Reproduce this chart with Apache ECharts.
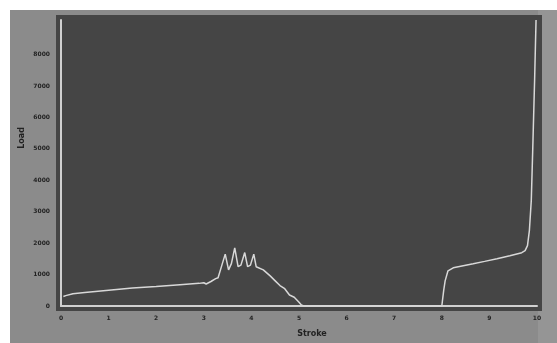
<!DOCTYPE html>
<html>
<head>
<meta charset="utf-8">
<script src="https://cdn.jsdelivr.net/npm/echarts@6/dist/echarts.min.js"></script>
<style>html,body{margin:0;padding:0;background:#fff}#c{width:557px;height:343px}</style>
</head>
<body>
<div id="c"></div>
<script>
var xTicks = [0,1,2,3,4,5,6,7,8,9,10];
var yTicks = [0,1000,2000,3000,4000,5000,6000,7000,8000];
var stroke = [0.05,0.1,0.25,0.5,1.0,1.5,2.0,2.5,2.9,3.0,3.05,3.15,3.25,3.3,3.38,3.45,3.52,3.58,3.65,3.72,3.78,3.86,3.92,3.98,4.05,4.1,4.25,4.4,4.5,4.6,4.7,4.8,4.9,4.95,5.0,5.05,5.1,6.0,7.0,7.9,8.0,8.04,8.07,8.13,8.24,8.45,8.66,8.9,9.16,9.43,9.68,9.75,9.8,9.84,9.88,9.91,9.95,9.98];
var load =   [300,330,390,430,500,570,620,680,720,740,700,780,870,900,1300,1650,1150,1350,1850,1250,1300,1700,1250,1300,1650,1250,1150,950,800,650,550,350,280,200,120,30,0,0,0,0,0,500,800,1120,1216,1280,1344,1420,1504,1600,1696,1760,1920,2400,3360,4960,7200,9100];
var xName = 'Stroke';
var yName = 'Load';

var pts = stroke.map(function(x,i){return [x, load[i]];});
var chart = echarts.init(document.getElementById('c'));
chart.setOption({
  backgroundColor: '#8b8b8b',
  animation: false,
  graphic: [
    {type:'rect', shape:{x:0,y:0,width:10,height:343}, style:{fill:'#ffffff'}, z:-10},
    {type:'rect', shape:{x:0,y:0,width:557,height:10}, style:{fill:'#ffffff'}, z:-10},
    {type:'rect', shape:{x:538,y:10,width:19,height:333}, style:{fill:'#959595'}, z:-10},
    {type:'text', x:22, y:138, rotation:Math.PI/2, style:{text:yName, fill:'#222', font:'bold 8px "DejaVu Sans"', textAlign:'center', textVerticalAlign:'middle'}},
    {type:'text', x:312, y:334, style:{text:xName, fill:'#222', font:'bold 8px "DejaVu Sans"', textAlign:'center', textVerticalAlign:'middle'}}
  ],
  grid: {left:61, right:20, top:20, bottom:37, show:true, backgroundColor:'#454545', borderColor:'#454545', borderWidth:10},
  xAxis: {
    type:'value', min:0, max:10, interval:1,
    axisLine:{show:true, onZero:false, lineStyle:{color:'#d0d0d0', width:2}},
    axisTick:{show:false},
    splitLine:{show:false},
    axisLabel:{color:'#222', fontSize:6, fontWeight:'bold', margin:9, fontFamily:'DejaVu Sans',
      formatter:function(v){return xTicks.indexOf(v)>=0 ? String(v) : '';}}
  },
  yAxis: {
    type:'value', min:0, max:9100, interval:1000,
    axisLine:{show:true, onZero:false, lineStyle:{color:'#d0d0d0', width:2}},
    axisTick:{show:false},
    splitLine:{show:false},
    axisLabel:{color:'#222', fontSize:6, fontWeight:'bold', margin:11, fontFamily:'DejaVu Sans',
      formatter:function(v){return yTicks.indexOf(v)>=0 ? String(v) : '';}}
  },
  series: [{
    type:'line', data: pts, showSymbol:false, symbol:'none',
    lineStyle:{color:'#d8d8d8', width:1.5}
  }]
});
</script>
</body>
</html>
